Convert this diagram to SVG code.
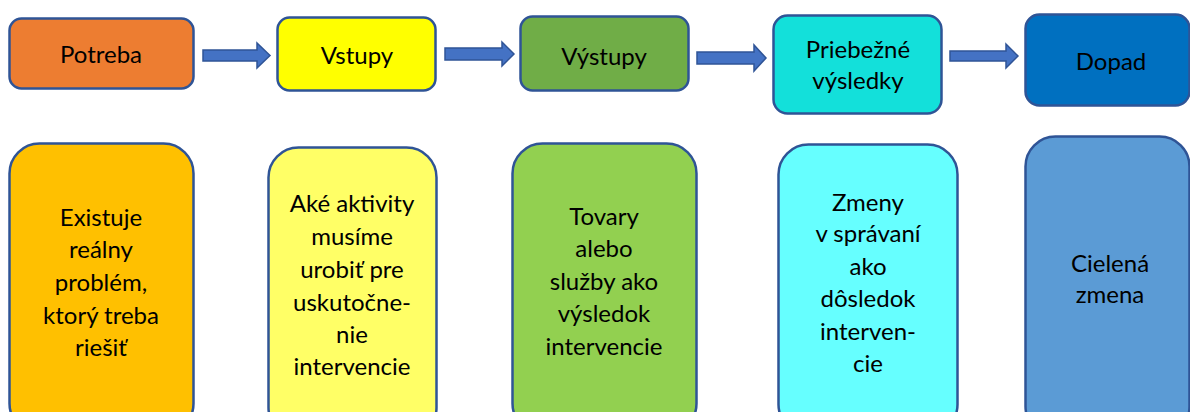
<svg xmlns="http://www.w3.org/2000/svg" width="1190" height="412" viewBox="0 0 1190 412">
<style>
.box{stroke:#2F5496;stroke-width:2.5}
.arr{fill:#4472C4;stroke:#2F5496;stroke-width:1.5}
text{font-family:Lato,"Liberation Sans",sans-serif;font-size:24px;fill:#000;text-anchor:middle}
</style>
<rect width="1190" height="412" fill="#fff"/>
<g id="connectors">
<polygon class="arr" points="203,50 257,50 257,43 270,55.5 257,68 257,61 203,61"/>
<polygon class="arr" points="445,48 502,48 502,42 514,54 502,66 502,60 445,60"/>
<polygon class="arr" points="697,52 754,52 754,45 766,58 754,71 754,64 697,64"/>
<polygon class="arr" points="950,51 1006,51 1006,44 1018,56 1006,68 1006,61 950,61"/>
</g>
<g id="potreba"><rect class="box" x="9.5" y="18.5" width="184" height="70" rx="12" fill="#ED7D31"/><text x="101" y="63">Potreba</text></g>
<g id="vstupy"><rect class="box" x="277.5" y="17.5" width="158" height="73" rx="12" fill="#FFFF00"/><text x="357" y="64">Vstupy</text></g>
<g id="vystupy"><rect class="box" x="520.5" y="16.5" width="168" height="74" rx="12" fill="#70AD47"/><text x="604" y="65">Výstupy</text></g>
<g id="priebezne"><rect class="box" x="773.5" y="15.5" width="168" height="98" rx="14" fill="#13E0DA"/><text x="858" y="58">Priebežné</text><text x="858" y="89">výsledky</text></g>
<g id="dopad"><rect class="box" x="1025.5" y="14.5" width="164" height="91" rx="14" fill="#0070C0"/><text x="1111" y="70">Dopad</text></g>
<g id="b1"><rect class="box" x="9.5" y="143.5" width="184" height="290" rx="30" fill="#FFC000"/>
<text x="101" y="226">Existuje</text><text x="101" y="258">reálny</text><text x="101" y="291">problém,</text><text x="101" y="324">ktorý treba</text><text x="101" y="356">riešiť</text></g>
<g id="b2"><rect class="box" x="268.5" y="147.5" width="168" height="290" rx="30" fill="#FFFF66"/>
<text x="352" y="212">Aké aktivity</text><text x="352" y="245">musíme</text><text x="352" y="278">urobiť pre</text><text x="352" y="311">uskutočne-</text><text x="352" y="343">nie</text><text x="352" y="375">intervencie</text></g>
<g id="b3"><rect class="box" x="512.5" y="143.5" width="184" height="290" rx="30" fill="#92D050"/>
<text x="604" y="225">Tovary</text><text x="604" y="257">alebo</text><text x="604" y="290">služby ako</text><text x="604" y="322">výsledok</text><text x="604" y="355">intervencie</text></g>
<g id="b4"><rect class="box" x="778.5" y="144.5" width="179" height="290" rx="30" fill="#66FFFF"/>
<text x="868" y="211">Zmeny</text><text x="868" y="242">v správaní</text><text x="868" y="275">ako</text><text x="868" y="307">dôsledok</text><text x="868" y="340">interven-</text><text x="868" y="372">cie</text></g>
<g id="b5"><rect class="box" x="1025.5" y="136.5" width="164" height="300" rx="30" fill="#5B9BD5"/>
<text x="1110" y="272">Cielená</text><text x="1110" y="303">zmena</text></g>
</svg>
